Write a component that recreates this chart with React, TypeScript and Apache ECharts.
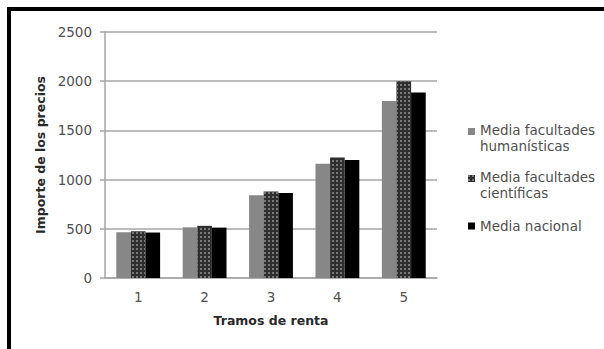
import React, { useEffect, useRef } from "react";
import * as echarts from "echarts";

const categories = ["1", "2", "3", "4", "5"];
const seriesNames = ["Media facultades humanísticas", "Media facultades científicas", "Media nacional"];
const humanisticas = [465, 515, 840, 1160, 1800];
const cientificas = [475, 530, 880, 1225, 2000];
const nacional = [462, 512, 865, 1200, 1885];
const yTicks = [0, 500, 1000, 1500, 2000, 2500];
const legendLabels: Record<string, string> = {
  "Media facultades humanísticas": "Media facultades\nhumanísticas",
  "Media facultades científicas": "Media facultades\ncientíficas",
  "Media nacional": "Media nacional",
};

const FONT = "DejaVu Sans";

export default function App() {
  const ref = useRef<HTMLDivElement>(null);
  useEffect(() => {
    if (!ref.current) return;
    const chart = echarts.init(ref.current, null, { renderer: "svg" });
    const topIcon = "path://M0 0 L7 0 L7 7 L0 7 Z M0 20";
    const midIcon = "path://M0 6.5 L7 6.5 L7 13.5 L0 13.5 Z M0 0 M0 20";
    chart.setOption({
      animation: false,
      backgroundColor: "#ffffff",
      textStyle: { fontFamily: FONT },
      graphic: [
        {
          type: "rect",
          shape: { x: 9, y: 9, width: 1000, height: 1000 },
          style: { fill: "none", stroke: "#000", lineWidth: 4 },
          z: 100,
        },
      ],
      grid: { left: 105, top: 32, right: 167, bottom: 71 },
      legend: {
        orient: "vertical",
        left: 468,
        top: 122,
        padding: 0,
        itemWidth: 7,
        itemHeight: 20,
        itemGap: 15,
        data: [
          { name: seriesNames[0], icon: topIcon },
          { name: seriesNames[1], icon: topIcon },
          { name: seriesNames[2], icon: midIcon },
        ],
        formatter: (n: string) => legendLabels[n] || n,
        textStyle: { fontFamily: FONT, fontSize: 13.5, color: "#505050", lineHeight: 16 },
      },
      xAxis: {
        type: "category",
        data: categories,
        name: "Tramos de renta",
        nameLocation: "middle",
        nameGap: 36,
        nameTextStyle: { fontFamily: FONT, fontSize: 12.5, fontWeight: "bold", color: "#2a2a2a" },
        axisLine: { lineStyle: { color: "#a6a6a6", width: 1.5 } },
        axisTick: { show: false },
        axisLabel: { fontFamily: FONT, fontSize: 13.5, color: "#505050", margin: 12 },
      },
      yAxis: {
        type: "value",
        min: yTicks[0],
        max: yTicks[yTicks.length - 1],
        interval: yTicks[1] - yTicks[0],
        name: "Importe de los precios",
        nameLocation: "middle",
        nameGap: 44,
        nameTextStyle: { fontFamily: FONT, fontSize: 12.5, fontWeight: "bold", color: "#2a2a2a" },
        axisLine: { show: true, lineStyle: { color: "#a6a6a6", width: 1.5 } },
        axisTick: { show: true, length: 5, lineStyle: { color: "#a6a6a6", width: 1.5 } },
        splitLine: { lineStyle: { color: "#a6a6a6", width: 1.5 } },
        axisLabel: {
          fontFamily: FONT,
          fontSize: 13.5,
          color: "#505050",
          margin: 13,
          formatter: (v: number) => String(v),
        },
      },
      series: [
        {
          name: seriesNames[0],
          type: "bar",
          data: humanisticas,
          barGap: "0%",
          barCategoryGap: "34%",
          itemStyle: { color: "#878787" },
        },
        {
          name: seriesNames[1],
          type: "bar",
          data: cientificas,
          barGap: "0%",
          barCategoryGap: "34%",
          itemStyle: {
            color: "#2e2e2e",
            decal: {
              symbol: "rect",
              symbolSize: 1,
              dashArrayX: [2, 2],
              dashArrayY: [2, 2],
              color: "rgba(140,140,140,0.8)",
              rotation: 0,
            },
          },
        },
        {
          name: seriesNames[2],
          type: "bar",
          data: nacional,
          barGap: "0%",
          barCategoryGap: "34%",
          itemStyle: { color: "#000000" },
        },
      ],
    });
    return () => chart.dispose();
  }, []);
  return (
    <div
      ref={ref}
      style={{ position: "fixed", left: 0, top: 0, width: 604, height: 349 }}
    />
  );
}
